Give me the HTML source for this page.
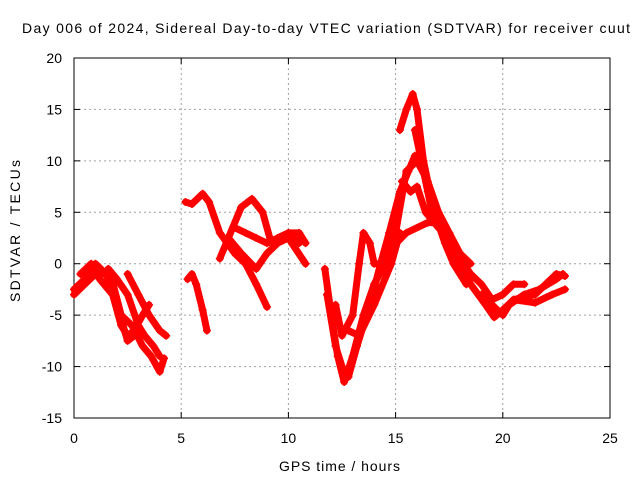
<!DOCTYPE html>
<html><head><meta charset="utf-8"><style>
body{margin:0;background:#fff}
svg{display:block;font-family:"Liberation Sans",sans-serif}
</style></head><body>
<svg id="c" width="640" height="480">
<text x="22" y="33" font-size="14" textLength="608" lengthAdjust="spacing">Day 006 of 2024, Sidereal Day-to-day VTEC variation (SDTVAR) for receiver cuut</text>
<g id="grid"></g>
<g id="axes"></g>
<g id="marks"></g>
<text x="279" y="471" font-size="14" textLength="121" lengthAdjust="spacing">GPS time / hours</text>
<text transform="translate(20,302) rotate(-90)" font-size="14" textLength="142" lengthAdjust="spacing">SDTVAR / TECUs</text>
</svg>
<script>
const xTicks=[0,5,10,15,20,25];
const yTicks=[-15,-10,-5,0,5,10,15,20];
const trackA1=[[0,-2.5],[0.5,-1.5],[1,0],[1.5,-1],[2,-4],[2.5,-7.5],[2.8,-7]];
const trackA2=[[0,-3],[0.5,-2],[1,-1],[1.7,-1],[2.2,-5],[2.7,-6],[3.2,-8],[3.6,-9],[4,-10.5],[4.2,-9.2]];
const trackA3=[[1.6,-0.5],[2,-1.5],[2.5,-3],[3,-6],[3.3,-7],[3.7,-8],[4,-9]];
const trackA4=[[2.5,-1],[3,-3],[3.5,-5],[4,-6.5],[4.3,-7]];
const trackA5=[[0.3,-1],[0.8,0],[1.2,-1.5],[1.8,-3],[2.2,-6],[2.5,-7],[2.8,-6.5],[3.2,-5],[3.5,-4]];
const trackB=[[5.3,-1.5],[5.5,-1],[5.7,-2],[6,-4.5],[6.2,-6.5]];
const trackC=[[5.2,6],[5.5,5.8],[6,6.8],[6.3,6],[6.8,3],[7.5,1],[8,0],[8.5,-2],[9,-4.2]];
const trackD=[[6.8,0.5],[7.2,2.5],[7.8,5.5],[8.3,6.3],[8.8,5],[9.2,2],[9.5,2.5],[10,3],[10.5,3],[10.8,2]];
const trackE=[[7.2,2.5],[7.8,1],[8.5,-0.5],[9,1],[9.5,2],[10,2.5],[10.8,0]];
const trackF=[[7.5,3.5],[8,3],[8.5,2.5],[9,2],[9.5,2.5],[10,3],[10.5,2]];
const trackG=[[11.7,-0.5],[12,-5],[12.3,-9],[12.6,-11.5],[13,-9],[13.5,-5],[14,-2],[14.5,0],[15,3],[15.5,9],[16,10],[16.5,8],[17,5],[17.5,3],[18,0.5],[18.5,-1],[19,-2],[19.5,-3.5],[20,-3],[20.5,-2],[21,-2]];
const trackH=[[11.8,-3],[12.2,-8],[12.5,-10],[12.8,-11],[13.2,-8],[13.8,-4],[14.3,0],[14.7,3],[15.2,7],[15.6,9],[15.9,10.5],[16.3,9],[16.8,6],[17.5,2],[18.5,-2],[19.2,-4],[19.6,-5.2],[20,-4.5],[20.5,-3.5],[21.5,-3],[22,-2],[22.5,-1],[22.9,-1.2]];
const trackI=[[12.2,-4],[12.5,-7],[13,-5],[13.3,0],[13.5,3],[13.8,2],[14,0],[14.3,0],[14.8,1.5],[15.5,3],[16.5,4],[17,4],[17.3,3]];
const trackJ=[[15.2,13],[15.5,15],[15.8,16.5],[16,15],[16.3,10],[16.8,5],[17.3,2],[17.7,0],[18.3,-2]];
const trackK=[[15.9,13],[16.2,10],[16.5,7],[16.8,4],[17.5,3],[18,1],[18.5,0]];
const trackL=[[19,-3],[19.5,-4],[20,-5],[20.3,-4],[21,-3],[21.7,-2.5],[22.5,-1.5],[22.8,-1]];
const trackM=[[20.5,-3.5],[21.5,-3.8],[22.3,-3],[22.9,-2.5]];
const trackN=[[12.8,-6.5],[13.3,-7],[14,-4],[14.8,0],[15.2,3]];
const trackO=[[15.3,8],[15.7,7],[16,7.5],[16.4,5],[17,3.5]];
const tracks=[trackA1,trackA2,trackA3,trackA4,trackA5,trackB,trackC,trackD,trackE,trackF,trackG,trackH,trackI,trackJ,trackK,trackL,trackM,trackN,trackO];

const X0=74,X1=610,Y0=418,Y1=58;
function xs(t){return X0+(t-0)/(25-0)*(X1-X0);}
function ys(v){return Y0-(v+15)/(20+15)*(Y0-Y1);}
const NS='http://www.w3.org/2000/svg';
function mk(tag,attrs,parent){const e=document.createElementNS(NS,tag);for(const k in attrs)e.setAttribute(k,attrs[k]);parent.appendChild(e);return e;}
const grid=document.getElementById('grid'),axes=document.getElementById('axes'),marks=document.getElementById('marks');
xTicks.forEach(t=>{
  const x=xs(t);
  if(t>0&&t<25){const g=mk('line',{x1:x,x2:x,y1:Y1,y2:Y0,stroke:'#a0a0a0','stroke-dasharray':'2,3'},grid);
  
  }
  mk('line',{x1:x,x2:x,y1:Y0,y2:Y0-6,stroke:'#000'},axes);
  mk('line',{x1:x,x2:x,y1:Y1,y2:Y1+6,stroke:'#000'},axes);
  const l=mk('text',{x:x,y:Y0+25,'text-anchor':'middle','font-size':'14'},axes);l.textContent=t;
  
  
});
yTicks.forEach(v=>{
  const y=ys(v);
  if(v>-15&&v<20){const g=mk('line',{x1:X0,x2:X1,y1:y,y2:y,stroke:'#a0a0a0','stroke-dasharray':'2,3'},grid);
  
  }
  mk('line',{x1:X0,x2:X0+6,y1:y,y2:y,stroke:'#000'},axes);
  mk('line',{x1:X1,x2:X1-6,y1:y,y2:y,stroke:'#000'},axes);
  const l=mk('text',{x:X0-12,y:y+5,'text-anchor':'end','font-size':'14'},axes);l.textContent=v;
  
  
});
const fr=mk('rect',{x:X0,y:Y1,width:X1-X0,height:Y0-Y1,fill:'none',stroke:'#000'},axes);


tracks.forEach(tr=>{
  const p=mk('polyline',{points:tr.map(d=>xs(d[0])+','+ys(d[1])).join(' '),fill:'none',stroke:'#f00','stroke-width':'7','stroke-linejoin':'round','stroke-linecap':'round'},marks);
  
  
  tr.forEach(d=>{const x=xs(d[0]),y=ys(d[1]);
    const m=mk('path',{d:`M${x-4},${y}H${x+4}M${x},${y-4}V${y+4}`,stroke:'#f00','stroke-width':'1.5'},marks);
    
    
  });
});
</script>
</body></html>
